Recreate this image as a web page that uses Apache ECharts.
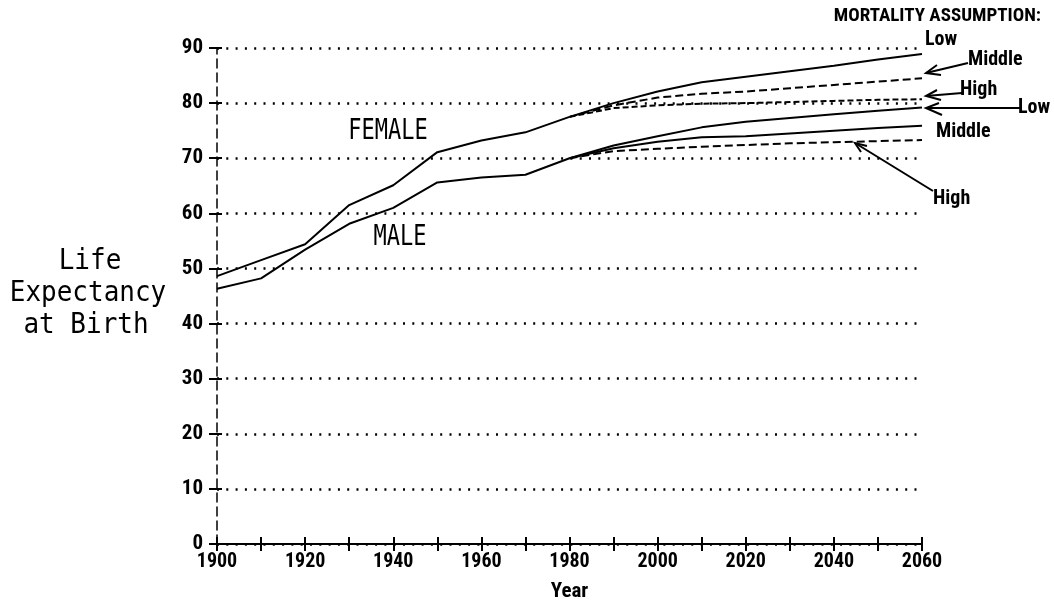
<!DOCTYPE html>
<html>
<head>
<meta charset="utf-8">
<script src="https://cdn.jsdelivr.net/npm/echarts@6/dist/echarts.min.js"></script>
<style>html,body{margin:0;padding:0;background:#fff}#c{width:1054px;height:611px}</style>
</head>
<body>
<div id="c"></div>
<script>
// ---- data ----
var histYears = [1900, 1910, 1920, 1930, 1940, 1950, 1960, 1970, 1980];
var projYears = [1980, 1990, 2000, 2010, 2020, 2030, 2040, 2050, 2060];
var femaleHist = [48.6, 51.5, 54.4, 61.5, 65.1, 71.1, 73.2, 74.7, 77.5];
var maleHist   = [46.3, 48.2, 53.4, 58.1, 61.0, 65.6, 66.5, 67.0, 70.0];
var femaleLow  = [77.5, 80.0, 82.1, 83.8, 84.8, 85.8, 86.8, 87.9, 88.9];
var femaleMid  = [77.5, 79.6, 81.0, 81.7, 82.1, 82.7, 83.3, 83.9, 84.5];
var femaleHigh = [77.5, 79.1, 79.6, 79.9, 80.0, 80.2, 80.4, 80.6, 80.7];
var maleLow    = [70.0, 72.3, 74.0, 75.6, 76.6, 77.3, 78.0, 78.6, 79.2];
var maleMid    = [70.0, 71.8, 73.0, 73.8, 74.0, 74.5, 75.0, 75.5, 75.9];
var maleHigh   = [70.0, 71.3, 71.7, 72.1, 72.4, 72.7, 72.9, 73.1, 73.3];
var xTicks = [1900, 1920, 1940, 1960, 1980, 2000, 2020, 2040, 2060];

function pairs(xs, ys) { return xs.map(function (x, i) { return [x, ys[i]]; }); }

var mono = '"DejaVu Sans Mono", monospace';
var cond = '"Roboto Condensed", "DejaVu Sans Condensed", sans-serif';
var chart = echarts.init(document.getElementById('c'));

function line(name, xs, ys, type) {
  return {
    name: name, type: 'line', data: pairs(xs, ys), symbol: 'none', silent: true,
    lineStyle: { color: '#000', width: 2, type: type || 'solid' }
  };
}

function txt(x, y, s, font, align, sy) {
  return { type: 'text', x: x, y: y, scaleY: sy || 1, silent: true,
    style: { text: s, font: font, fill: '#000', align: align || 'left', verticalAlign: 'middle' } };
}
function pl(points) {
  return { type: 'polyline', silent: true, shape: { points: points },
    style: { stroke: '#000', lineWidth: 2, fill: null } };
}

var lblFont = 'bold 20px ' + cond;
var bigMono = 'normal 26px ' + mono;
var sexFont = 'normal 22px ' + mono;

chart.setOption({
  animation: false,
  backgroundColor: '#fff',
  grid: { left: 217, right: 132, top: 48, bottom: 67 },
  xAxis: [{
    type: 'value', min: 1900, max: 2060, interval: 10,
    axisLine: { show: true, onZero: false, lineStyle: { color: '#000', width: 2 } },
    axisTick: { show: true, length: 7, lineStyle: { color: '#000', width: 2 } },
    splitLine: { show: false },
    axisLabel: { color: '#000', fontFamily: cond, fontWeight: 'bold', fontSize: 20, margin: 8,
      formatter: function (v) { return xTicks.indexOf(v) >= 0 ? String(v) : ''; } },
    name: 'Year', nameLocation: 'middle', nameGap: 37,
    nameTextStyle: { color: '#000', fontFamily: cond, fontWeight: 'bold', fontSize: 21 }
  }, {
    type: 'value', min: 1900, max: 2060, interval: 10, position: 'bottom',
    axisLine: { show: false },
    axisTick: { show: true, inside: true, length: 7, lineStyle: { color: '#000', width: 2 } },
    axisLabel: { show: false }, splitLine: { show: false }
  }],
  yAxis: [{
    type: 'value', min: 0, max: 90, interval: 10,
    axisLine: { show: true, onZero: false, lineStyle: { color: '#000', width: 1.5, type: [9, 5] } },
    axisTick: { show: true, length: 8, lineStyle: { color: '#000', width: 2 } },
    axisLabel: { color: '#000', fontFamily: cond, fontWeight: 'bold', fontSize: 21, margin: 14 },
    splitLine: { show: true, lineStyle: { color: '#000', width: 2.5, type: [2, 7.3] } }
  }, {
    type: 'value', min: 0, max: 90, interval: 10, position: 'left',
    axisLine: { show: false },
    axisTick: { show: true, inside: true, length: 5, lineStyle: { color: '#000', width: 2 } },
    axisLabel: { show: false }, splitLine: { show: false }
  }],
  series: [
    line('Female', histYears, femaleHist),
    line('Male', histYears, maleHist),
    line('Female Low', projYears, femaleLow),
    line('Female Middle', projYears, femaleMid, [8, 4]),
    line('Female High', projYears, femaleHigh, [6, 3]),
    line('Male Low', projYears, maleLow),
    line('Male Middle', projYears, maleMid),
    line('Male High', projYears, maleHigh, [8, 4])
  ],
  graphic: [
    txt(90, 262, 'Life', bigMono, 'center', 1.1),
    txt(88, 294, 'Expectancy', bigMono, 'center', 1.1),
    txt(86, 326, 'at Birth', bigMono, 'center', 1.1),
    txt(388, 132, 'FEMALE', sexFont, 'center', 1.25),
    txt(400, 238, 'MALE', sexFont, 'center', 1.25),
    txt(1041, 16, 'MORTALITY ASSUMPTION:', 'bold 19px ' + cond, 'right'),
    txt(925, 40, 'Low', lblFont),
    txt(968, 60, 'Middle', lblFont),
    txt(960, 90, 'High', lblFont),
    txt(1018, 108, 'Low', lblFont),
    txt(936, 132, 'Middle', lblFont),
    txt(933, 199, 'High', lblFont),
    pl([[968, 63], [926, 73]]),
    pl([[937, 65], [926, 73], [941, 75]]),
    pl([[962, 93], [926, 96]]),
    pl([[937, 90], [926, 96], [941, 100]]),
    pl([[1020, 108], [926, 108]]),
    pl([[939, 103], [926, 108], [942, 115]]),
    pl([[933, 191], [855, 143]]),
    pl([[867, 146], [855, 143], [861, 152]])
  ]
});
</script>
</body>
</html>
